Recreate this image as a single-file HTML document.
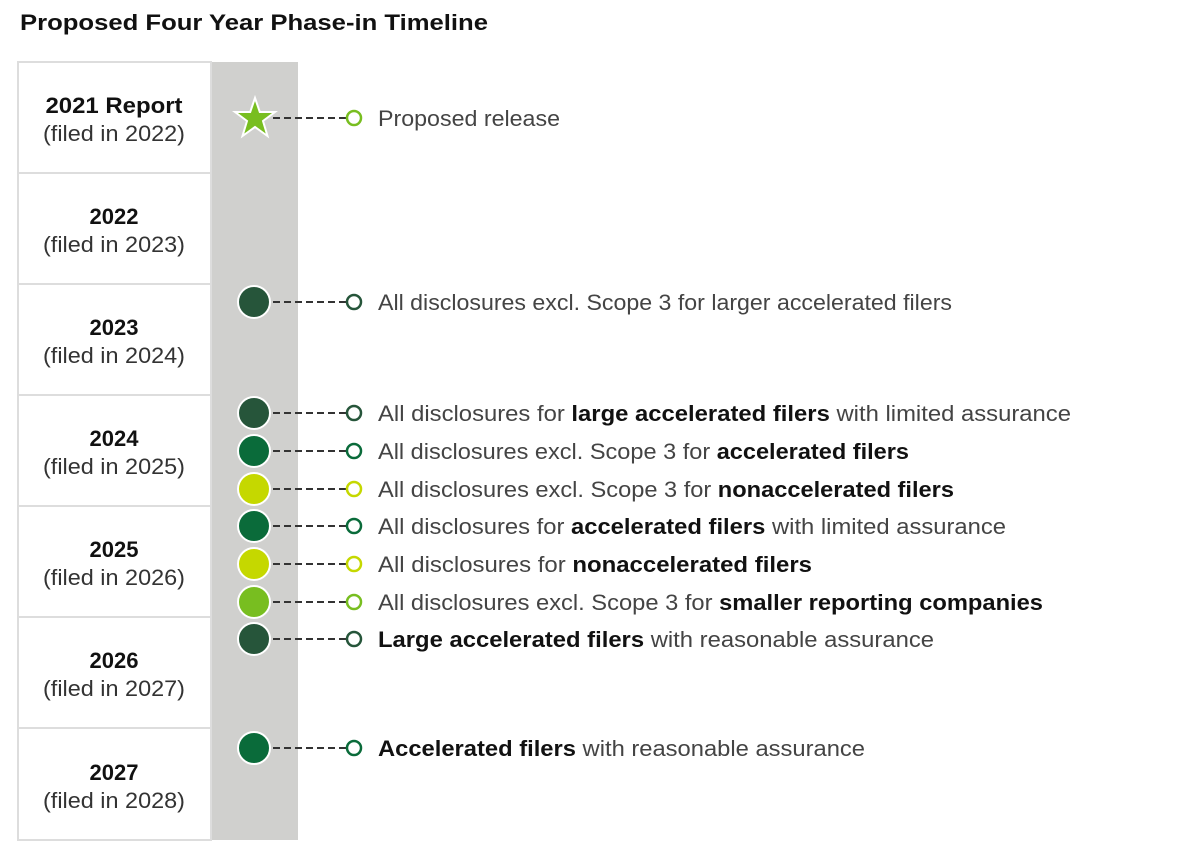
<!DOCTYPE html>
<html><head><meta charset="utf-8"><style>
body{margin:0;background:#fff;width:1200px;height:854px;overflow:hidden}
svg text{font-family:"Liberation Sans","DejaVu Sans",sans-serif}
</style></head><body>
<svg width="1200" height="854" xmlns="http://www.w3.org/2000/svg">
<text x="20" y="30" font-size="22" font-weight="bold" fill="#111" textLength="468" lengthAdjust="spacingAndGlyphs">Proposed Four Year Phase-in Timeline</text>
<rect x="211" y="62" width="87" height="778" fill="#d0d0ce"/>
<g fill="#fff" stroke="#ddd" stroke-width="2">
<rect x="18" y="62" width="193" height="111"/>
<rect x="18" y="173" width="193" height="111"/>
<rect x="18" y="284" width="193" height="111"/>
<rect x="18" y="395" width="193" height="111"/>
<rect x="18" y="506" width="193" height="111"/>
<rect x="18" y="617" width="193" height="111"/>
<rect x="18" y="728" width="193" height="112"/>
</g>
<g font-size="22" text-anchor="middle" fill="#333">
<text x="114" y="113" font-weight="bold" fill="#111" textLength="137" lengthAdjust="spacingAndGlyphs">2021 Report</text><text x="114" y="141" textLength="142" lengthAdjust="spacingAndGlyphs">(filed in 2022)</text>
<text x="114" y="224" font-weight="bold" fill="#111">2022</text><text x="114" y="252" textLength="142" lengthAdjust="spacingAndGlyphs">(filed in 2023)</text>
<text x="114" y="335" font-weight="bold" fill="#111">2023</text><text x="114" y="363" textLength="142" lengthAdjust="spacingAndGlyphs">(filed in 2024)</text>
<text x="114" y="446" font-weight="bold" fill="#111">2024</text><text x="114" y="474" textLength="142" lengthAdjust="spacingAndGlyphs">(filed in 2025)</text>
<text x="114" y="557" font-weight="bold" fill="#111">2025</text><text x="114" y="585" textLength="142" lengthAdjust="spacingAndGlyphs">(filed in 2026)</text>
<text x="114" y="668" font-weight="bold" fill="#111">2026</text><text x="114" y="696" textLength="142" lengthAdjust="spacingAndGlyphs">(filed in 2027)</text>
<text x="114" y="780" font-weight="bold" fill="#111">2027</text><text x="114" y="808" textLength="142" lengthAdjust="spacingAndGlyphs">(filed in 2028)</text>
</g>
<polygon points="255,98 259.8,112 275,112 263,121 267.5,136 255,127 242.5,136 247,121 235,112 250.2,112" fill="#78be20" stroke="#fff" stroke-width="2"/>
<g stroke="#333" stroke-width="2" stroke-dasharray="7,4">
<line x1="273" y1="118" x2="347" y2="118"/>
<line x1="273" y1="302" x2="347" y2="302"/>
<line x1="273" y1="413" x2="347" y2="413"/>
<line x1="273" y1="451" x2="347" y2="451"/>
<line x1="273" y1="489" x2="347" y2="489"/>
<line x1="273" y1="526" x2="347" y2="526"/>
<line x1="273" y1="564" x2="347" y2="564"/>
<line x1="273" y1="602" x2="347" y2="602"/>
<line x1="273" y1="639" x2="347" y2="639"/>
<line x1="273" y1="748" x2="347" y2="748"/>
</g>
<g stroke="#fff" stroke-width="2">
<circle cx="254" cy="302" r="16" fill="#26553a"/>
<circle cx="254" cy="413" r="16" fill="#26553a"/>
<circle cx="254" cy="451" r="16" fill="#0a6b3a"/>
<circle cx="254" cy="489" r="16" fill="#c5d800"/>
<circle cx="254" cy="526" r="16" fill="#0a6b3a"/>
<circle cx="254" cy="564" r="16" fill="#c5d800"/>
<circle cx="254" cy="602" r="16" fill="#78be20"/>
<circle cx="254" cy="639" r="16" fill="#26553a"/>
<circle cx="254" cy="748" r="16" fill="#0a6b3a"/>
</g>
<g fill="#fff" stroke-width="2.5">
<circle cx="354" cy="118" r="7" stroke="#78be20"/>
<circle cx="354" cy="302" r="7" stroke="#26553a"/>
<circle cx="354" cy="413" r="7" stroke="#26553a"/>
<circle cx="354" cy="451" r="7" stroke="#0a6b3a"/>
<circle cx="354" cy="489" r="7" stroke="#c5d800"/>
<circle cx="354" cy="526" r="7" stroke="#0a6b3a"/>
<circle cx="354" cy="564" r="7" stroke="#c5d800"/>
<circle cx="354" cy="602" r="7" stroke="#78be20"/>
<circle cx="354" cy="639" r="7" stroke="#26553a"/>
<circle cx="354" cy="748" r="7" stroke="#0a6b3a"/>
</g>
<g font-size="22" fill="#444">
<text x="378" y="126" textLength="182" lengthAdjust="spacingAndGlyphs">Proposed release</text>
<text x="378" y="310" textLength="574" lengthAdjust="spacingAndGlyphs">All disclosures excl. Scope 3 for larger accelerated filers</text>
<text x="378" y="421" textLength="693" lengthAdjust="spacingAndGlyphs">All disclosures for <tspan font-weight="bold" fill="#111">large accelerated filers</tspan> with limited assurance</text>
<text x="378" y="459" textLength="531" lengthAdjust="spacingAndGlyphs">All disclosures excl. Scope 3 for <tspan font-weight="bold" fill="#111">accelerated filers</tspan></text>
<text x="378" y="497" textLength="576" lengthAdjust="spacingAndGlyphs">All disclosures excl. Scope 3 for <tspan font-weight="bold" fill="#111">nonaccelerated filers</tspan></text>
<text x="378" y="534" textLength="628" lengthAdjust="spacingAndGlyphs">All disclosures for <tspan font-weight="bold" fill="#111">accelerated filers</tspan> with limited assurance</text>
<text x="378" y="572" textLength="434" lengthAdjust="spacingAndGlyphs">All disclosures for <tspan font-weight="bold" fill="#111">nonaccelerated filers</tspan></text>
<text x="378" y="610" textLength="665" lengthAdjust="spacingAndGlyphs">All disclosures excl. Scope 3 for <tspan font-weight="bold" fill="#111">smaller reporting companies</tspan></text>
<text x="378" y="647" textLength="556" lengthAdjust="spacingAndGlyphs"><tspan font-weight="bold" fill="#111">Large accelerated filers</tspan> with reasonable assurance</text>
<text x="378" y="756" textLength="487" lengthAdjust="spacingAndGlyphs"><tspan font-weight="bold" fill="#111">Accelerated filers</tspan> with reasonable assurance</text>
</g>
</svg>
</body></html>
